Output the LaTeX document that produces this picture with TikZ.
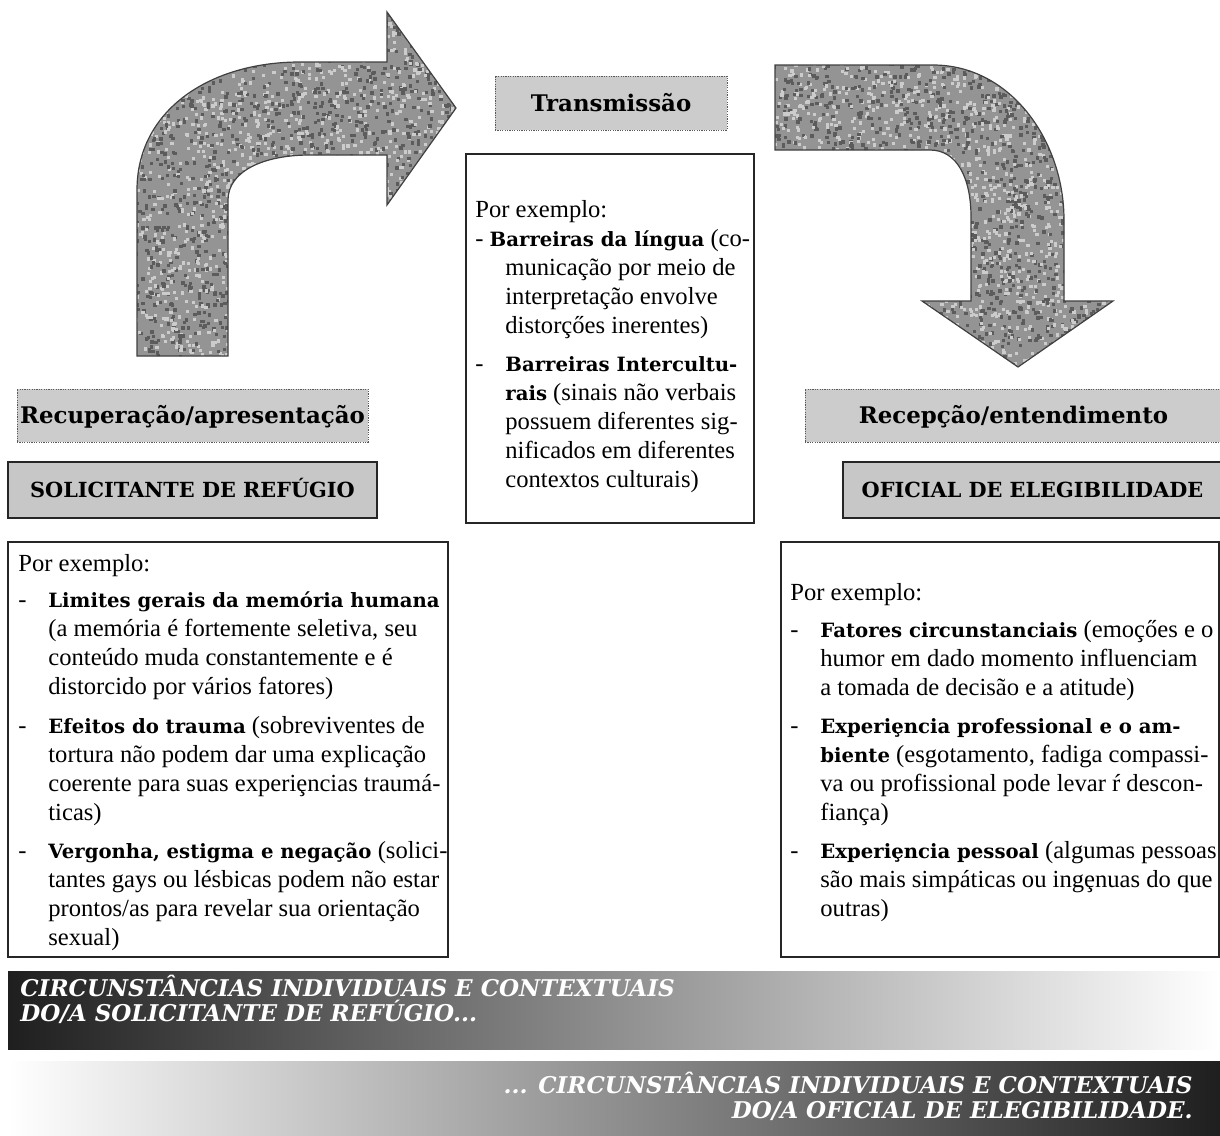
\documentclass[tikz,border=0pt]{standalone}
\usepackage{fontspec}
\setmainfont{Liberation Serif}
\newfontfamily\slabfont{DejaVu Serif}[Scale=0.8]
\newcommand{\hd}[1]{{\slabfont\bfseries #1}}
% arrow outlines (pixel grid, y downwards)
\newcommand{\upturn}{(137,356) -- (137,190) .. controls (137,110) and (210,62) .. (300,62) -- (387,62) -- (387,12) -- (456,108) -- (387,205) -- (387,155) -- (310,155) .. controls (262,155) and (228,172) .. (228,200) -- (228,356) -- cycle}
\newcommand{\downturn}{(775,65) -- (933,65) .. controls (1010,65) and (1064,140) .. (1064,220) -- (1064,301) -- (1113,301) -- (1018,367) -- (922,301) -- (971,301) -- (971,217) .. controls (971,178) and (957,150) .. (930,150) -- (775,150) -- cycle}
\tikzset{
    exline/.style={anchor=base west, inner sep=0pt, font={\fontsize{12.3}{14.6}\selectfont}},
    tagbox/.style={draw=black!65, dash pattern=on 0.6pt off 0.6pt, fill=black!20, inner sep=0pt,
        text height=8.2pt, text depth=0pt, font={\fontsize{14.3}{16}\slabfont\bfseries}},
    rolebox/.style={draw=black!85, line width=1.1pt, fill=black!22, inner sep=0pt,
        text height=7.6pt, text depth=0pt, font={\fontsize{13}{16}\slabfont\bfseries}},
    exbox/.style={draw=black!85, line width=0.7pt},
    speck/.style={black!64},
    glint/.style={black!20},
    banner/.style={inner sep=0pt, text=white, font={\fontsize{14.4}{12.5}\slabfont\bfseries\itshape}},
}
\begin{document}
\begin{tikzpicture}[x=0.5pt, y=-0.5pt]
    \useasboundingbox (0,0) rectangle (1220,1135);
    \pgfmathsetseed{7}

    % Speckled turning arrows
    \begin{scope}
        \clip \upturn;
        \fill[black!42] (130,0) rectangle (460,360);
        \foreach \k in {1,...,1600} {
            \fill[speck] ({296+162*rand},{184+175*rand}) rectangle ++(3.4,3.4);
            \fill[glint] ({296+162*rand},{184+175*rand}) rectangle ++(3.2,3.2);
        }
    \end{scope}
    \draw[black!75, line width=0.6pt] \upturn;

    \begin{scope}
        \clip \downturn;
        \fill[black!42] (770,60) rectangle (1120,370);
        \foreach \k in {1,...,1600} {
            \fill[speck] ({944+172*rand},{216+155*rand}) rectangle ++(3.4,3.4);
            \fill[glint] ({944+172*rand},{216+155*rand}) rectangle ++(3.2,3.2);
        }
    \end{scope}
    \draw[black!75, line width=0.6pt] \downturn;

    % Stage labels
    \node[tagbox, minimum width=116pt, minimum height=27pt] (transtag) at (611,103) {Transmissão};
    \node[tagbox, minimum width=175.5pt, minimum height=26.5pt] (recuptag) at (192.5,415.5) {Recuperação/apresentação};
    \node[tagbox, minimum width=208.5pt, minimum height=26.5pt] (receptag) at (1013.5,415.5) {Recepção/entendimento};

    % Roles
    \node[rolebox, minimum width=184.5pt, minimum height=28pt] (asylum) at (192.5,490) {SOLICITANTE DE REFÚGIO};
    \node[rolebox, minimum width=189.5pt, minimum height=28pt] (officer) at (1032.5,490) {OFICIAL DE ELEGIBILIDADE};

    % Example boxes
    \node[exbox, minimum width=144pt, minimum height=184.5pt] (transbox) at (610,338.5) {};
    \node[exbox, minimum width=220pt, minimum height=207.5pt] (askbox) at (228,749.5) {};
    \node[exbox, minimum width=219pt, minimum height=207.5pt] (offbox) at (1000,749.5) {};

    % Transmission examples
    \node[exline] (tpor) at (475,217) {Por exemplo:};
    \node[exline] (ta0) at (475,246) {- \hd{Barreiras da língua} (co-};
    \foreach \ln [count=\i] in {{municação por meio de}, {interpretação envolve}, {distorçőes inerentes)}}
        \node[exline] (ta\i) at (505,{246+29.2*\i}) {\ln};
    \node[exline] (tbd) at (475,371) {-};
    \foreach \ln [count=\i from 0] in {{\hd{Barreiras Intercultu-}}, {\hd{rais} (sinais não verbais}, {possuem diferentes sig-}, {nificados em diferentes}, {contextos culturais)}}
        \node[exline] (tb\i) at (505,{371+29.2*\i}) {\ln};

    % Asylum seeker examples
    \node[exline] (apor) at (18,571) {Por exemplo:};
    \node[exline] (aad) at (18,607) {-};
    \foreach \ln [count=\i from 0] in {{\hd{Limites gerais da memória humana}}, {(a memória é fortemente seletiva, seu}, {conteúdo muda constantemente e é}, {distorcido por vários fatores)}}
        \node[exline] (aa\i) at (48,{607+29.2*\i}) {\ln};
    \node[exline] (abd) at (18,733) {-};
    \foreach \ln [count=\i from 0] in {{\hd{Efeitos do trauma} (sobreviventes de}, {tortura não podem dar uma explicação}, {coerente para suas experi\c{e}ncias traumá-}, {ticas)}}
        \node[exline] (ab\i) at (48,{733+29.2*\i}) {\ln};
    \node[exline] (acd) at (18,858) {-};
    \foreach \ln [count=\i from 0] in {{\hd{Vergonha, estigma e negação} (solici-}, {tantes gays ou lésbicas podem não estar}, {prontos/as para revelar sua orientação}, {sexual)}}
        \node[exline] (ac\i) at (48,{858+29.2*\i}) {\ln};

    % Officer examples
    \node[exline] (opor) at (790,600) {Por exemplo:};
    \node[exline] (oad) at (790,637) {-};
    \foreach \ln [count=\i from 0] in {{\hd{Fatores circunstanciais} (emoçőes e o}, {humor em dado momento influenciam}, {a tomada de decisão e a atitude)}}
        \node[exline] (oa\i) at (820,{637+29.2*\i}) {\ln};
    \node[exline] (obd) at (790,733) {-};
    \foreach \ln [count=\i from 0] in {{\hd{Experi\c{e}ncia professional e o am-}}, {\hd{biente} (esgotamento, fadiga compassi-}, {va ou profissional pode levar ŕ descon-}, {fiança)}}
        \node[exline] (ob\i) at (820,{733+29.2*\i}) {\ln};
    \node[exline] (ocd) at (790,858) {-};
    \foreach \ln [count=\i from 0] in {{\hd{Experi\c{e}ncia pessoal} (algumas pessoas}, {são mais simpáticas ou ing\c{e}nuas do que}, {outras)}}
        \node[exline] (oc\i) at (820,{858+29.2*\i}) {\ln};

    % Shaded footers
    \shade[left color=black!88, right color=white] (8,971) rectangle (1220,1049);
    \shade[left color=white, right color=black!88] (8,1061) rectangle (1220,1135);
    \node[banner, anchor=base west] (seekfoot1) at (20,996) {CIRCUNSTÂNCIAS INDIVIDUAIS E CONTEXTUAIS};
    \node[banner, anchor=base west] (seekfoot2) at (20,1021) {DO/A SOLICITANTE DE REFÚGIO...};
    \node[banner, anchor=base east] (offfoot1) at (1193,1093) {... CIRCUNSTÂNCIAS INDIVIDUAIS E CONTEXTUAIS};
    \node[banner, anchor=base east] (offfoot2) at (1193,1118) {DO/A OFICIAL DE ELEGIBILIDADE.};
\end{tikzpicture}
\end{document}
